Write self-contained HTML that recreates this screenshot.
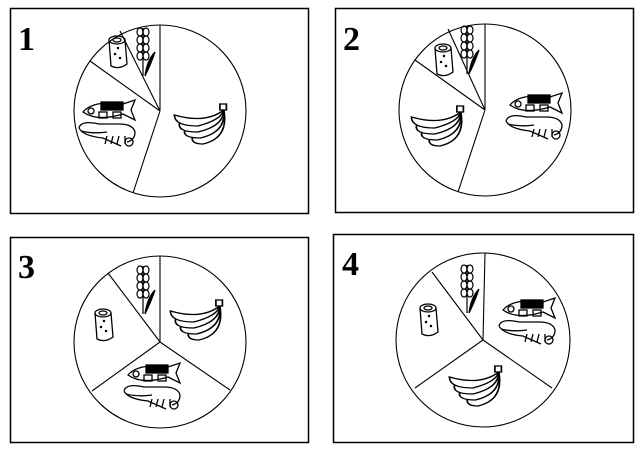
<!DOCTYPE html>
<html><head><style>body{margin:0;background:#fff}svg{display:block}</style></head><body>
<svg width="640" height="451" viewBox="0 0 640 451" xmlns="http://www.w3.org/2000/svg">
<defs>
<g id="wheat" fill="none" stroke="#000" stroke-width="1.2">
<line x1="0" y1="-20" x2="0" y2="28"/>
<ellipse cx="-3" cy="-16" rx="3" ry="4"/><ellipse cx="3" cy="-16" rx="3" ry="4"/>
<ellipse cx="-3" cy="-8" rx="3" ry="4"/><ellipse cx="3" cy="-8" rx="3" ry="4"/>
<ellipse cx="-3" cy="0" rx="3" ry="4"/><ellipse cx="3" cy="0" rx="3" ry="4"/>
<ellipse cx="-3" cy="8" rx="3" ry="4"/><ellipse cx="3" cy="8" rx="3" ry="4"/>
<path d="M2 28 Q4 12 12 4 Q8 16 2 28Z" fill="#000"/>
</g>
<g id="log" fill="none" stroke="#000" stroke-width="1.3">
<path d="M-8 -12 L-6 14 Q2 18 10 12 L8 -12"/>
<ellipse cx="0" cy="-12" rx="8" ry="4"/><ellipse cx="0" cy="-12" rx="4" ry="2"/>
<circle cx="-2" cy="2" r="0.6" fill="#000"/><circle cx="3" cy="6" r="0.6" fill="#000"/><circle cx="1" cy="-4" r="0.6" fill="#000"/>
</g>
<g id="banana" fill="#fff" stroke="#000" stroke-width="1.3">
<g transform="scale(1.3,1)">
<path d="M-8 16 Q8 20 16 -10 Q20 18 0 24 Q-10 24 -8 16Z"/>
<path d="M-14 10 Q8 16 16 -10 Q18 12 -2 18 Q-16 18 -14 10Z"/>
<path d="M-18 3 Q6 10 16 -10 Q16 6 -4 12 Q-20 12 -18 3Z"/>
<path d="M-22 -5 Q2 4 16 -10 Q14 0 -4 6 Q-22 6 -22 -5Z"/>
<rect x="13" y="-16" width="5" height="6"/>
</g>
</g>
<g id="fishshrimp" fill="none" stroke="#000" stroke-width="1.3">
<path d="M-30 -10 Q-20 -22 10 -18 L22 -22 L18 -12 L22 -2 L10 -8 Q-16 0 -30 -10Z"/>
<circle cx="-22" cy="-11" r="3"/>
<rect x="-12" y="-20" width="22" height="8" fill="#000"/>
<rect x="-14" y="-10" width="8" height="6"/><rect x="0" y="-10" width="8" height="6"/>
<path d="M-34 6 Q-32 -2 -14 2 L6 2 Q20 2 22 10 Q22 18 14 20 M-34 6 Q-30 14 -10 16 L8 24"/>
<path d="M-32 9 Q-20 12 -6 10"/>
<path d="M-6 14 l-2 8 M0 14 l-2 8 M6 14 l-2 8 M12 14 l0 8"/>
<circle cx="16" cy="20" r="4"/>
</g>
</defs>
<g fill="none" stroke="#000" stroke-width="1.5">
<rect x="10.5" y="8.5" width="298" height="205"/>
<rect x="335.5" y="8.5" width="298" height="204"/>
<rect x="10.5" y="237.5" width="298" height="205"/>
<rect x="333.5" y="234.5" width="300" height="208"/>
</g>
<g fill="none" stroke="#000" stroke-width="1.1">
<circle cx="160" cy="111" r="86"/>
<path d="M160 111 L160 25 M160 111 L120 31 M160 111 L90 61 M160 111 L133 193"/>
<circle cx="485" cy="110" r="86"/>
<path d="M485 110 L485 24 M485 110 L448 29 M485 110 L415 60 M485 110 L458 192"/>
<circle cx="160" cy="342" r="86"/>
<path d="M160 342 L160 256 M160 342 L108 273 M160 342 L92 391 M160 342 L230 390"/>
<circle cx="483" cy="340" r="87"/>
<path d="M483 340 L485 253 M483 340 L432 272 M483 340 L415 388 M483 340 L552 388"/>
</g>
<use href="#wheat" x="143" y="48"/><use href="#log" x="117" y="52"/>
<use href="#fishshrimp" x="113" y="122"/><use href="#banana" x="203" y="120"/>
<use href="#wheat" x="467" y="46"/><use href="#log" x="443" y="60"/>
<use href="#fishshrimp" x="540" y="115"/><use href="#banana" x="440" y="122"/>
<use href="#wheat" x="143" y="286"/><use href="#log" x="103" y="325"/>
<use href="#banana" x="199" y="316"/><use href="#fishshrimp" x="158" y="385"/>
<use href="#wheat" x="467" y="285"/><use href="#log" x="428" y="320"/>
<use href="#fishshrimp" x="533" y="320"/><use href="#banana" x="478" y="382"/>
<g font-family="Liberation Serif, serif" font-size="34" font-weight="bold" fill="#000">
<text x="18" y="50">1</text><text x="343" y="50">2</text>
<text x="18" y="278">3</text><text x="342" y="275">4</text>
</g>
</svg>
</body></html>
